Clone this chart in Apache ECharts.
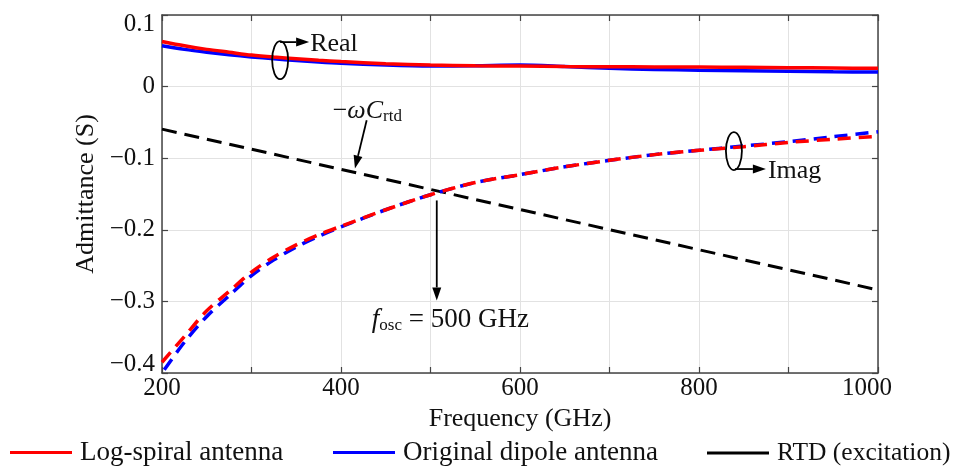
<!DOCTYPE html>
<html>
<head>
<meta charset="utf-8">
<script src="https://cdn.jsdelivr.net/npm/echarts@6/dist/echarts.min.js"></script>
<style>html,body{margin:0;padding:0;background:#fff}#c{width:959px;height:467px}</style>
</head>
<body>
<div id="c"></div>
<script>
// ---- data ----
const freq = [200,225,250,275,300,325,350,375,400,450,500,550,600,650,700,750,800,850,900,950,1000];
const realLogSpiral = [0.063,0.057,0.052,0.048,0.044,0.0412,0.039,0.0368,0.035,0.032,0.030,0.029,0.0287,0.0280,0.0277,0.0275,0.0273,0.027,0.0265,0.026,0.0255];
const realDipole = [0.057,0.052,0.048,0.0445,0.0415,0.0388,0.0365,0.0343,0.0325,0.030,0.0287,0.0292,0.030,0.028,0.0255,0.024,0.0228,0.022,0.0213,0.0207,0.0203];
const imagLogSpiral = [-0.385,-0.349,-0.313,-0.286,-0.259,-0.238,-0.221,-0.207,-0.195,-0.172,-0.151,-0.134,-0.123,-0.112,-0.103,-0.095,-0.089,-0.084,-0.078,-0.0735,-0.0695];
const imagDipole = [-0.400,-0.357,-0.321,-0.292,-0.264,-0.242,-0.224,-0.209,-0.196,-0.172,-0.151,-0.134,-0.123,-0.112,-0.103,-0.095,-0.089,-0.083,-0.077,-0.070,-0.063];
const rtdFreq = [200,1000];
const rtdImag = [-0.0594,-0.284];
const xTicks = [200,400,600,800,1000];
const seriesNames = ['Log-spiral antenna','Original dipole antenna','RTD (excitation)'];

const FONT = "'Liberation Serif','Times New Roman',serif";
const FS = 25;
const AX = '#444';
const zip = (xs, ys) => xs.map((x,i)=>[x, ys[i]]);
const fmtY = v => { const r = Math.round(v*10)/10; return (r<0?'\u2212':'') + Math.abs(r).toString(); };

const chart = echarts.init(document.getElementById('c'), null, {renderer:'canvas'});
const axisCommon = () => ({
  axisLine:{show:true, onZero:false, lineStyle:{color:AX, width:1.5}},
  axisTick:{show:true, inside:true, length:6, lineStyle:{color:AX, width:1.2}},
});
const option = {
  animation:false,
  backgroundColor:'#fff',
  grid:{left:162, right:81, top:15, bottom:94, containLabel:false},
  xAxis:[
    Object.assign({type:'value', min:200, max:1000, interval:100, position:'bottom',
      name:'Frequency (GHz)', nameLocation:'middle', nameGap:22,
      nameTextStyle:{fontFamily:FONT, fontSize:26, color:'#111'},
      axisLabel:{fontFamily:FONT, fontSize:FS, color:'#111', margin:3,
        formatter: v => xTicks.indexOf(v) < 0 ? '' : (v===1000 ? '{e|1000}' : String(v)),
        rich:{e:{fontFamily:FONT, fontSize:FS, color:'#111', padding:[0,22,0,0]}}},
      splitLine:{show:true, lineStyle:{color:'#e2e2e2', width:1}}}, axisCommon()),
    Object.assign({type:'value', min:200, max:1000, interval:100, position:'top',
      axisLabel:{show:false}, splitLine:{show:false}}, axisCommon())
  ],
  yAxis:[
    Object.assign({type:'value', min:-0.4, max:0.1, interval:0.1, position:'left',
      name:'Admittance (S)', nameLocation:'middle', nameGap:42,
      nameTextStyle:{fontFamily:FONT, fontSize:26, color:'#111'},
      axisLabel:{fontFamily:FONT, fontSize:FS, color:'#111', margin:7,
        formatter: v => { const s = fmtY(v); const r = Math.round(v*10);
          if (r===1) return '{t|'+s+'}'; if (r===-4) return '{b|'+s+'}'; return s; },
        rich:{t:{fontFamily:FONT, fontSize:FS, color:'#111', padding:[18,0,0,0]},
              b:{fontFamily:FONT, fontSize:FS, color:'#111', padding:[0,0,18,0]}}},
      splitLine:{show:true, lineStyle:{color:'#e2e2e2', width:1}}}, axisCommon()),
    Object.assign({type:'value', min:-0.4, max:0.1, interval:0.1, position:'right',
      axisLabel:{show:false}, splitLine:{show:false}}, axisCommon())
  ],
  legend:[
    {data:[seriesNames[0]], left:10, top:439, fs:27},
    {data:[seriesNames[1]], left:333, top:439, fs:27},
    {data:[seriesNames[2]], left:707, top:440, fs:25.5}
  ].map(l => { const fs = l.fs; delete l.fs; return Object.assign(l, {icon:'rect', itemWidth:62, itemHeight:3, itemGap:0, padding:0,
      textStyle:{fontFamily:FONT, fontSize:fs, color:'#111', padding:[0,0,0,3]}, selectedMode:false}); }),
  series:[
    {name:seriesNames[2], type:'line', data:zip(rtdFreq, rtdImag), showSymbol:false, symbol:'none',
      itemStyle:{color:'#000'}, lineStyle:{color:'#000', width:3, type:[15,8]}, z:2},
    {name:seriesNames[1], type:'line', data:zip(freq, realDipole), showSymbol:false, symbol:'none', smooth:0.3,
      itemStyle:{color:'#0000ff'}, lineStyle:{color:'#0000ff', width:3.5}, z:3},
    {name:seriesNames[1], type:'line', data:zip(freq, imagDipole), showSymbol:false, symbol:'none', smooth:0.3,
      itemStyle:{color:'#0000ff'}, lineStyle:{color:'#0000ff', width:3.5, type:[13,8], dashOffset:-4}, z:3},
    {name:seriesNames[0], type:'line', data:zip(freq, realLogSpiral), showSymbol:false, symbol:'none', smooth:0.3,
      itemStyle:{color:'#ff0000'}, lineStyle:{color:'#ff0000', width:3.5}, z:4},
    {name:seriesNames[0], type:'line', data:zip(freq, imagLogSpiral), showSymbol:false, symbol:'none', smooth:0.3,
      itemStyle:{color:'#ff0000'}, lineStyle:{color:'#ff0000', width:3.5, type:[13,8]}, z:4}
  ]
};
chart.setOption(option);

// ---- annotations (anchored in data coordinates) ----
const P = (f, v) => chart.convertToPixel({xAxisIndex:0, yAxisIndex:0}, [f, v]);
function arrow(x1, y1, x2, y2) {
  const dx = x2-x1, dy = y2-y1, L = Math.hypot(dx,dy), ux = dx/L, uy = dy/L;
  const hl = 13, hw = 4.5;
  const bx = x2-ux*hl, by = y2-uy*hl;
  return [
    {type:'line', shape:{x1, y1, x2:bx, y2:by}, style:{stroke:'#000', lineWidth:1.8}, z:100},
    {type:'polygon', shape:{points:[[x2,y2],[bx-uy*hw, by+ux*hw],[bx+uy*hw, by-ux*hw]]}, style:{fill:'#000'}, z:100}
  ];
}
const txt = (x, y, text, extra) => Object.assign({type:'text', x, y, z:100,
  style:Object.assign({text, fontFamily:FONT, fontSize:26, fill:'#111', align:'left', verticalAlign:'middle'}, extra||{})});

const g = [];
// Real
const re = P(332, 0.037);
g.push({type:'ellipse', shape:{cx:re[0], cy:re[1], rx:8, ry:19}, style:{fill:null, stroke:'#000', lineWidth:1.8}, z:100});
g.push(...arrow(re[0], re[1]-18, re[0]+29, re[1]-18));
g.push(txt(re[0]+30, re[1]-16, 'Real'));
// Imag
const im = P(839, -0.090);
g.push({type:'ellipse', shape:{cx:im[0], cy:im[1], rx:8, ry:19}, style:{fill:null, stroke:'#000', lineWidth:1.8}, z:100});
g.push(...arrow(im[0]+1, im[1]+18, im[0]+32, im[1]+18));
g.push(txt(im[0]+34, im[1]+20, 'Imag'));
// -omega C_rtd
const a1 = P(428.7, -0.047), a2 = P(415.6, -0.1144);
g.push(...arrow(a1[0], a1[1], a2[0], a2[1]));
g.push({type:'text', x:a1[0]-34, y:a1[1]-9, z:100, style:{
  text:'{m|\u2212}{w|\u03C9C}{s|rtd}', verticalAlign:'middle', align:'left',
  rich:{m:{fontFamily:FONT, fontSize:26, fill:'#111'},
        w:{fontFamily:FONT, fontSize:26, fontStyle:'italic', fill:'#111'},
        s:{fontFamily:FONT, fontSize:17, fill:'#111', padding:[10,0,0,0]}}}});
// f_osc
const b1 = P(507, -0.159), b2 = P(507, -0.2986);
g.push(...arrow(b1[0], b1[1], b2[0], b2[1]));
g.push({type:'text', x:b1[0]-65, y:b2[1]+20, z:100, style:{
  text:'{f|f}{s|osc}{n| = 500 GHz}', verticalAlign:'middle', align:'left',
  rich:{f:{fontFamily:FONT, fontSize:27, fontStyle:'italic', fill:'#111'},
        s:{fontFamily:FONT, fontSize:17, fill:'#111', padding:[10,0,0,0]},
        n:{fontFamily:FONT, fontSize:27, fill:'#111'}}}});
chart.setOption({graphic:{elements:g}});
</script>
</body>
</html>
